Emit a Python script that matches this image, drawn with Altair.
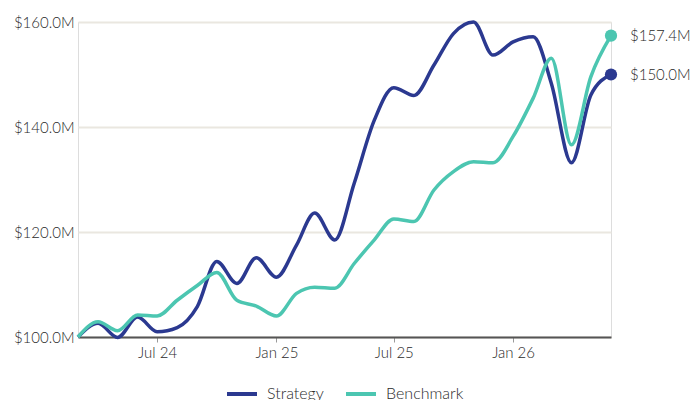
import altair as alt
import pandas as pd

months = pd.date_range("2024-03-01", "2026-06-01", freq="MS").strftime("%Y-%m-%dT00:00:00").tolist()

strategy = [100.0, 102.6, 99.9, 103.8, 101.0, 101.8, 105.8, 114.4, 110.2, 115.1, 111.4, 117.5,
            123.6, 118.5, 129.3, 141.3, 147.5, 146.0, 151.8, 157.8, 160.0, 153.7, 156.2, 157.2,
            148.3, 133.2, 146.1, 150.0]
benchmark = [100.0, 102.9, 101.2, 104.2, 104.0, 107.0, 109.8, 112.3, 107.0, 105.9, 104.0, 108.3,
             109.5, 109.3, 114.0, 118.5, 122.5, 122.0, 128.0, 131.5, 133.4, 133.2, 138.2, 145.5,
             153.1, 136.6, 149.6, 157.4]

series_names = ["Strategy", "Benchmark"]
series_colors = ["#2b3990", "#4cc6b1"]
y_ticks = [100, 120, 140, 160]

rows = []
for name, vals in zip(series_names, [strategy, benchmark]):
    for i, (d, v) in enumerate(zip(months, vals)):
        rows.append({"date": d, "value": v, "series": name, "is_last": i == len(vals) - 1})
df = pd.DataFrame(rows)

FONT = "Lato"
TXT = "#2a2a2a"

x_enc = alt.X(
    "date:T",
    title=None,
    scale=alt.Scale(domain=[alt.DateTime(year=2024, month=3, date=1),
                            alt.DateTime(year=2026, month=6, date=1)]),
    axis=alt.Axis(
        values=[alt.DateTime(year=2024, month=7, date=1), alt.DateTime(year=2025, month=1, date=1),
                alt.DateTime(year=2025, month=7, date=1), alt.DateTime(year=2026, month=1, date=1)],
        format="%b %y", grid=False, domainColor="#555555", domainWidth=2,
        tickColor="#999999", tickSize=5, tickWidth=1, labelPadding=3,
        labelFontSize=15, labelColor=TXT, labelFont=FONT, labelFontWeight=300,
    ),
)
y_enc = alt.Y(
    "value:Q",
    title=None,
    scale=alt.Scale(domain=[100, 160], nice=False, zero=False),
    axis=alt.Axis(
        values=y_ticks, labelExpr="'$' + format(datum.value, '.1f') + 'M'",
        domain=False, ticks=False, gridColor="#eae7e0", gridWidth=2,
        labelPadding=4, labelFontSize=15, labelColor=TXT, labelFont=FONT, labelFontWeight=300,
    ),
)
color_scale = alt.Scale(domain=series_names, range=series_colors)
color_enc = alt.Color(
    "series:N",
    scale=color_scale,
    legend=alt.Legend(
        title=None, orient="none", direction="horizontal", legendX=147, legendY=355,
        symbolType="stroke", symbolSize=900, symbolStrokeWidth=4,
        labelFontSize=16, labelColor=TXT, labelFont=FONT, labelFontWeight=300,
        labelOffset=8, columnPadding=14,
    ),
)

base = alt.Chart(df)
lines = base.mark_line(interpolate="monotone", strokeWidth=3.5).encode(
    x=x_enc, y=y_enc, color=color_enc,
    order=alt.Order("date:T"),
)
last = base.transform_filter(alt.datum.is_last)
points = last.mark_circle(size=150, opacity=1).encode(
    x="date:T", y="value:Q",
    color=alt.Color("series:N", scale=color_scale, legend=None),
)
labels = last.transform_calculate(
    label="'$' + format(datum.value, '.1f') + 'M'"
).mark_text(align="left", baseline="middle", dx=19, fontSize=15, font=FONT, fontWeight=300,
            color=TXT).encode(
    x="date:T", y="value:Q", text="label:N",
)

chart = alt.layer(lines, points, labels).properties(
    width=533, height=315,
    autosize=alt.AutoSizeParams(type="none"),
    padding={"left": 78, "top": 22, "right": 81, "bottom": 63},
).configure_view(stroke=None).configure(background="white")

chart.save("out.html", embed_options={"renderer": "svg", "actions": False})
